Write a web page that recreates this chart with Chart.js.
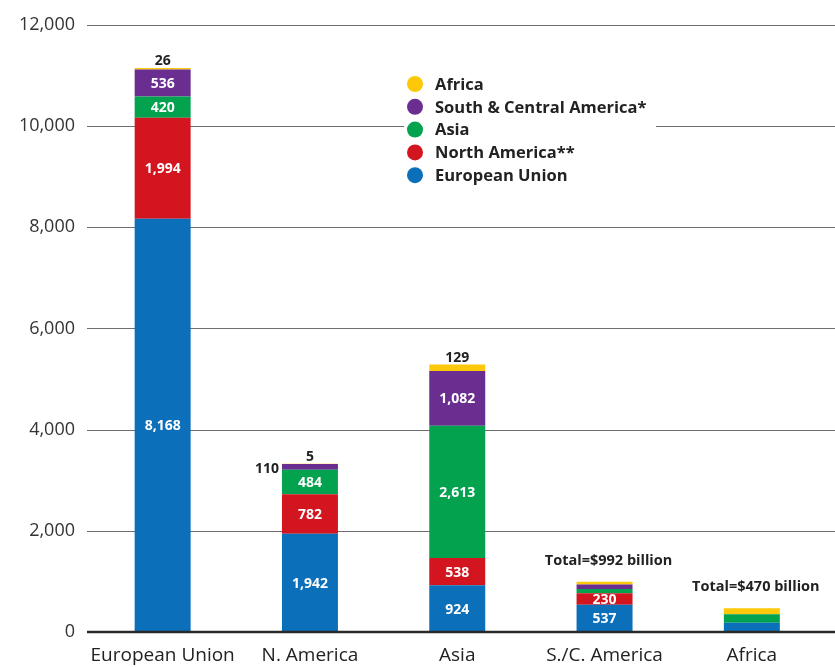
<!DOCTYPE html>
<html lang="en">
<head>
    <meta charset="UTF-8">
    <title>Exports by region</title>
    <script src="https://cdn.jsdelivr.net/npm/chart.js"></script>
    <style>
        html, body { margin: 0; padding: 0; background: #fff; }
        #wrap { width: 835px; height: 667px; }
    </style>
</head>
<body>
    <div id="wrap"><canvas id="chart" width="835" height="667"></canvas></div>

    <script>
        // origin regions (x axis)
        const regions = ['European Union', 'N. America', 'Asia', 'S./C. America', 'Africa'];

        // destination series, bottom to top
        const euValues     = [8168, 1942, 924, 537, 185];
        const naValues     = [1994, 782, 538, 230, 0];
        const asiaValues   = [420, 484, 2613, 85, 165];
        const scaValues    = [536, 110, 1082, 85, 0];
        const africaValues = [26, 5, 129, 55, 120];

        const seriesNames  = ['European Union', 'North America**', 'Asia', 'South & Central America*', 'Africa'];
        const seriesColors = ['#0b6fba', '#d2151f', '#02a24f', '#6a2d90', '#fdc80a'];

        // small notes drawn outside the bars
        const topNotes  = ['26', '5', '129', 'Total=$992 billion', 'Total=$470 billion'];
        const sideNotes = ['', '110', '', '', ''];

        const yTicks = [0, 2000, 4000, 6000, 8000, 10000, 12000];

        const allSeries = [euValues, naValues, asiaValues, scaValues, africaValues];

        const FONT = '"Open Sans", "Noto Sans", sans-serif';

        // grid lines run from the tick labels to the right edge of the page
        const gridPlugin = {
            id: 'wideGrid',
            beforeDatasetsDraw(chart) {
                const ctx = chart.ctx;
                const y = chart.scales.y;
                ctx.save();
                yTicks.forEach(v => {
                    if (v === 0) return;
                    const py = Math.round(y.getPixelForValue(v)) + 0.5;
                    ctx.strokeStyle = '#6f6f6f';
                    ctx.lineWidth = 1;
                    ctx.beginPath();
                    ctx.moveTo(chart.chartArea.left - 2, py);
                    ctx.lineTo(chart.width, py);
                    ctx.stroke();
                });
                ctx.restore();
            },
            afterDatasetsDraw(chart) {
                const ctx = chart.ctx;
                const py = chart.scales.y.getPixelForValue(0);
                ctx.save();
                ctx.strokeStyle = '#2a2a2a';
                ctx.lineWidth = 2.5;
                ctx.beginPath();
                ctx.moveTo(chart.chartArea.left - 2, py);
                ctx.lineTo(chart.width, py);
                ctx.stroke();
                ctx.restore();
            }
        };

        // white numbers inside the segments + black notes outside
        const labelPlugin = {
            id: 'labels',
            afterDatasetsDraw(chart) {
                const ctx = chart.ctx;
                ctx.save();
                ctx.textAlign = 'center';
                ctx.textBaseline = 'middle';
                ctx.font = 'bold 14px ' + FONT;
                ctx.fillStyle = '#fff';
                chart.data.datasets.forEach((ds, di) => {
                    const meta = chart.getDatasetMeta(di);
                    meta.data.forEach((bar, i) => {
                        const v = ds.data[i];
                        const h = Math.abs(bar.base - bar.y);
                        if (h >= 10 && v > 0) {
                            ctx.fillText(v.toLocaleString('en-US'), bar.x, (bar.y + bar.base) / 2 + 1);
                        }
                    });
                });
                // notes above the stacks
                const last = chart.getDatasetMeta(chart.data.datasets.length - 1);
                ctx.fillStyle = '#222';
                ctx.textBaseline = 'bottom';
                last.data.forEach((bar, i) => {
                    const total = topNotes[i];
                    const long = total.length > 4;
                    ctx.font = (long ? 'bold 14.5px ' : 'bold 14px ') + FONT;
                    ctx.fillText(total, bar.x + (long ? 4 : 0), bar.y - (long ? 14 : 0));
                });
                // note to the left of the N. America stack
                ctx.font = 'bold 14px ' + FONT;
                ctx.textAlign = 'right';
                ctx.textBaseline = 'middle';
                const pur = chart.getDatasetMeta(3);
                pur.data.forEach((bar, i) => {
                    if (sideNotes[i]) ctx.fillText(sideNotes[i], bar.x - bar.width / 2 - 3, bar.y + 5);
                });
                ctx.restore();
            }
        };

        // legend box inside the plot, Africa on top
        const legendPlugin = {
            id: 'boxLegend',
            afterDatasetsDraw(chart) {
                const ctx = chart.ctx;
                const x = 413, y0 = 84, step = 22.8;
                ctx.save();
                ctx.fillStyle = '#fff';
                ctx.fillRect(x - 9, y0 - 12, 252, step * 5 + 2);
                ctx.font = 'bold 16.5px ' + FONT;
                ctx.textBaseline = 'middle';
                ctx.textAlign = 'left';
                for (let k = 0; k < 5; k++) {
                    const si = 4 - k;
                    const y = y0 + k * step;
                    ctx.fillStyle = seriesColors[si];
                    ctx.beginPath();
                    ctx.arc(x + 2, y, 8, 0, Math.PI * 2);
                    ctx.fill();
                    ctx.fillStyle = '#222';
                    ctx.fillText(seriesNames[si], x + 22, y + 1);
                }
                ctx.restore();
            }
        };

        new Chart(document.getElementById('chart').getContext('2d'), {
            type: 'bar',
            data: {
                labels: regions,
                datasets: allSeries.map((vals, i) => ({
                    label: seriesNames[i],
                    data: vals,
                    backgroundColor: seriesColors[i],
                    borderWidth: 0,
                    barPercentage: 0.38,
                    categoryPercentage: 1.0
                }))
            },
            options: {
                responsive: false,
                animation: false,
                devicePixelRatio: 1,
                layout: { padding: { top: 24, right: 9.5, bottom: 0, left: 0 } },
                scales: {
                    x: {
                        stacked: true,
                        grid: { display: false, drawTicks: false },
                        border: { display: false },
                        ticks: {
                            color: '#222',
                            font: { family: FONT, size: 19 },
                            padding: 12,
                            maxRotation: 0,
                            minRotation: 0,
                            autoSkip: false
                        },
                        afterFit(s) { s.height = 35; }
                    },
                    y: {
                        stacked: true,
                        min: 0,
                        max: 12000,
                        afterBuildTicks(s) { s.ticks = yTicks.map(v => ({ value: v })); },
                        afterFit(s) { s.width = 89; },
                        grid: { display: false, drawTicks: false },
                        border: { display: false },
                        ticks: {
                            color: '#333',
                            padding: 14,
                            font: { family: FONT, size: 18 },
                            callback: v => v.toLocaleString('en-US')
                        }
                    }
                },
                plugins: {
                    legend: { display: false },
                    tooltip: { enabled: false }
                }
            },
            plugins: [gridPlugin, labelPlugin, legendPlugin]
        });
    </script>
</body>
</html>
